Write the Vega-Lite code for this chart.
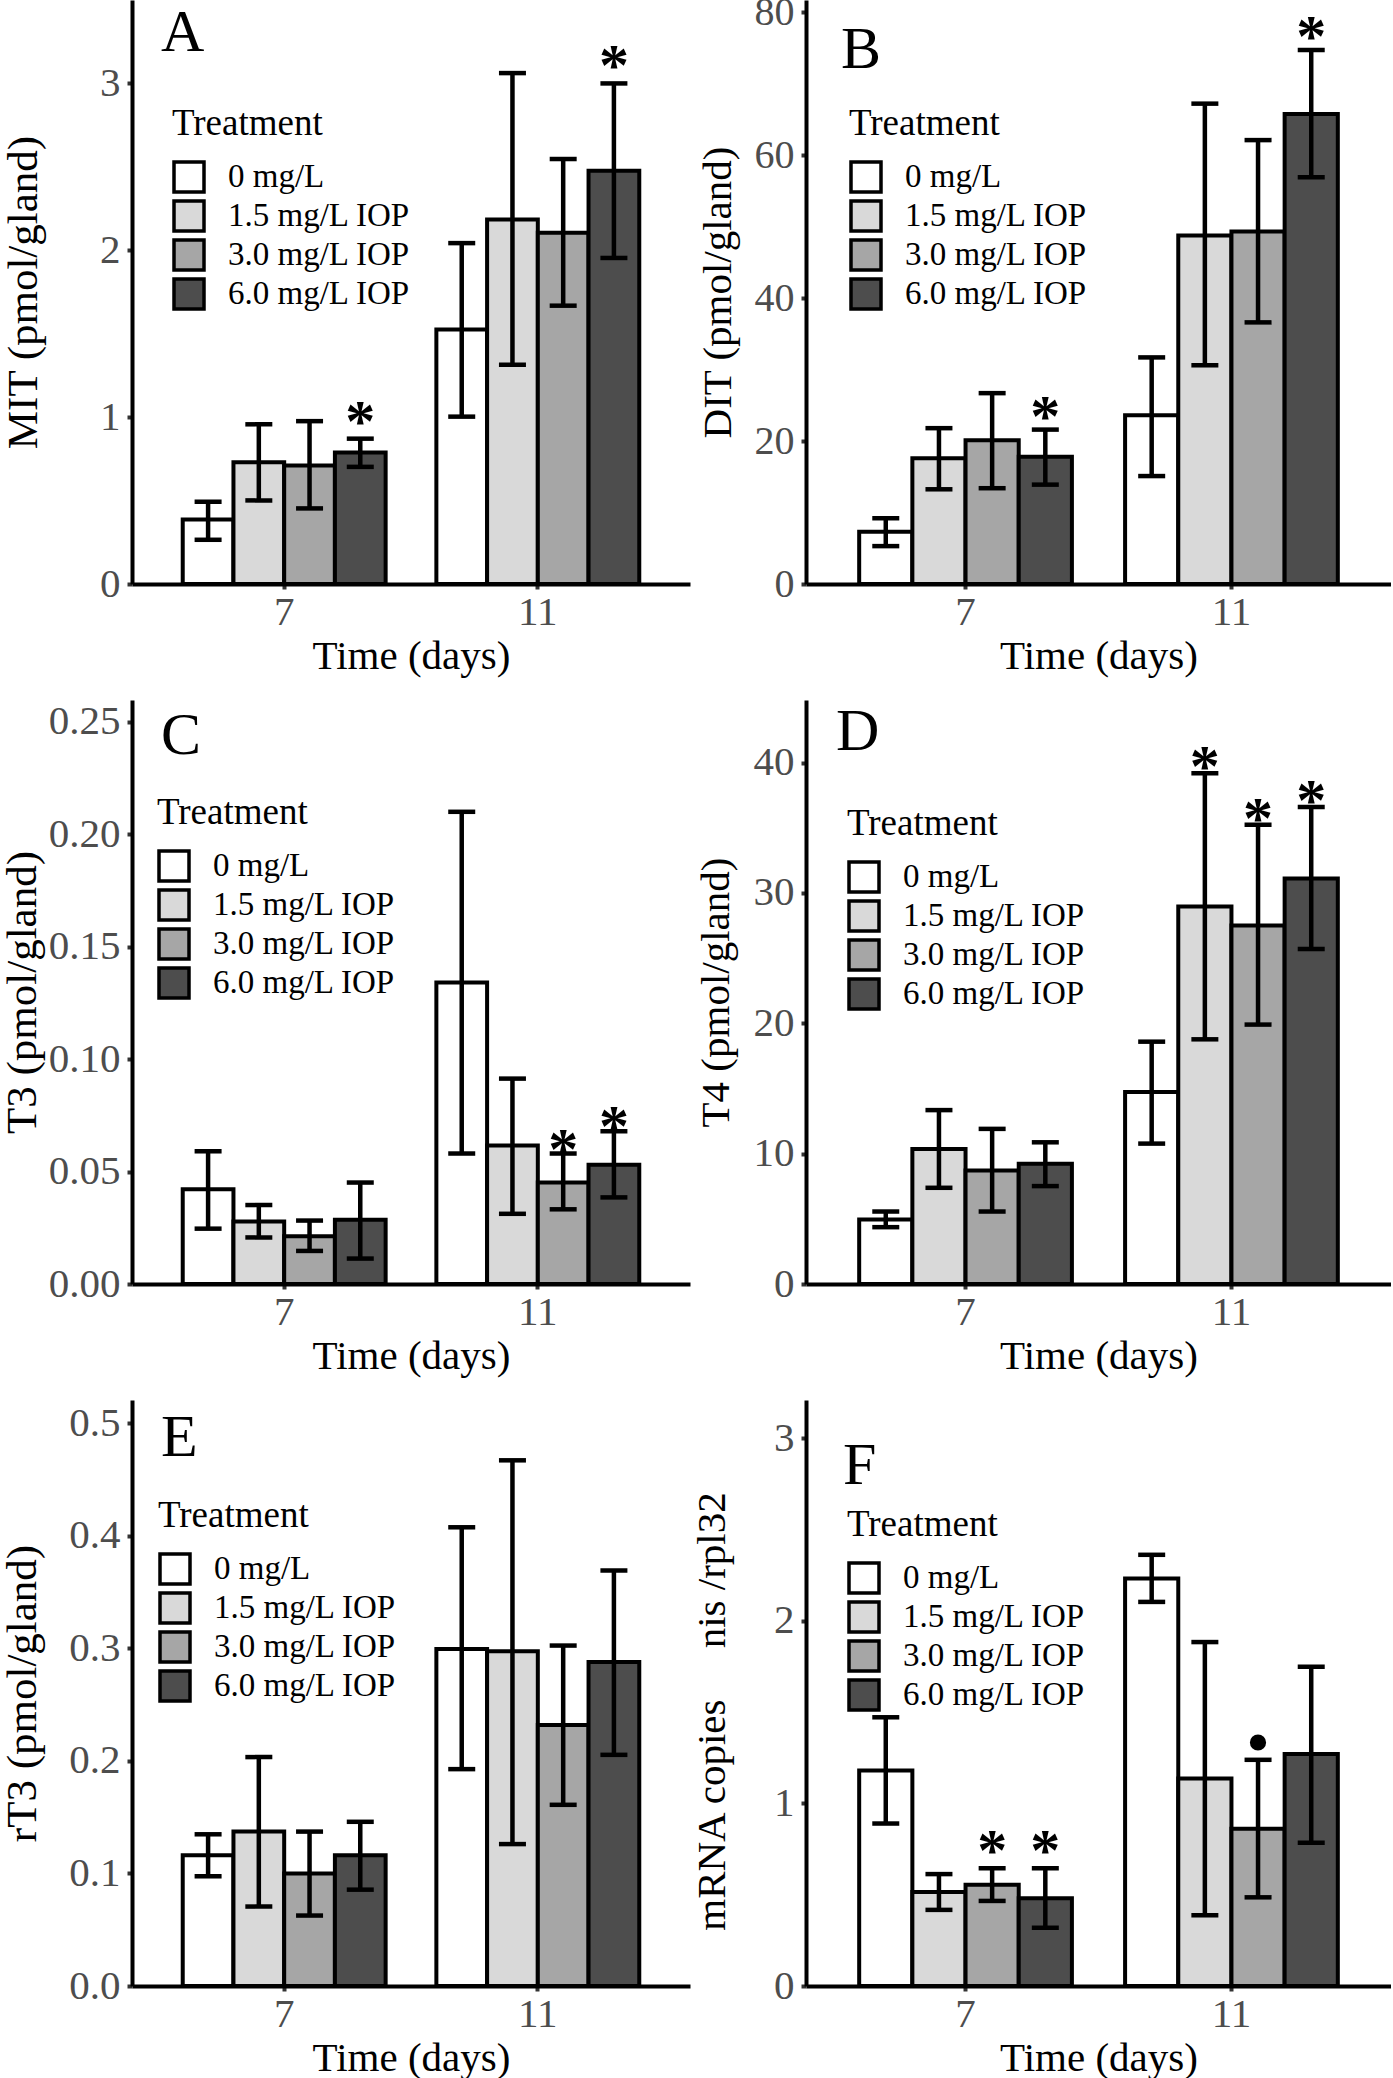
{
  "$schema": "https://vega.github.io/schema/vega-lite/v6.json",
  "padding": {"left": 0, "top": -8, "right": 0, "bottom": 0},
  "datasets": {
    "d": [
      {"p":"A","day":"7","trt":"0 mg/L","m":0.386,"lo":0.265,"hi":0.493,"sig":""},
      {"p":"A","day":"7","trt":"1.5 mg/L IOP","m":0.729,"lo":0.501,"hi":0.957,"sig":""},
      {"p":"A","day":"7","trt":"3.0 mg/L IOP","m":0.710,"lo":0.453,"hi":0.976,"sig":""},
      {"p":"A","day":"7","trt":"6.0 mg/L IOP","m":0.788,"lo":0.702,"hi":0.871,"sig":"*"},
      {"p":"A","day":"11","trt":"0 mg/L","m":1.525,"lo":1.003,"hi":2.043,"sig":""},
      {"p":"A","day":"11","trt":"1.5 mg/L IOP","m":2.185,"lo":1.314,"hi":3.062,"sig":""},
      {"p":"A","day":"11","trt":"3.0 mg/L IOP","m":2.105,"lo":1.668,"hi":2.547,"sig":""},
      {"p":"A","day":"11","trt":"6.0 mg/L IOP","m":2.477,"lo":1.954,"hi":3.0,"sig":"*"},
      {"p":"B","day":"7","trt":"0 mg/L","m":7.3,"lo":5.3,"hi":9.2,"sig":""},
      {"p":"B","day":"7","trt":"1.5 mg/L IOP","m":17.6,"lo":13.25,"hi":21.8,"sig":""},
      {"p":"B","day":"7","trt":"3.0 mg/L IOP","m":20.1,"lo":13.4,"hi":26.7,"sig":""},
      {"p":"B","day":"7","trt":"6.0 mg/L IOP","m":17.8,"lo":13.9,"hi":21.6,"sig":"*"},
      {"p":"B","day":"11","trt":"0 mg/L","m":23.6,"lo":15.1,"hi":31.7,"sig":""},
      {"p":"B","day":"11","trt":"1.5 mg/L IOP","m":48.75,"lo":30.6,"hi":67.2,"sig":""},
      {"p":"B","day":"11","trt":"3.0 mg/L IOP","m":49.3,"lo":36.6,"hi":62.1,"sig":""},
      {"p":"B","day":"11","trt":"6.0 mg/L IOP","m":65.75,"lo":56.9,"hi":74.7,"sig":"*"},
      {"p":"C","day":"7","trt":"0 mg/L","m":0.0421,"lo":0.0246,"hi":0.059,"sig":""},
      {"p":"C","day":"7","trt":"1.5 mg/L IOP","m":0.0278,"lo":0.0207,"hi":0.0351,"sig":""},
      {"p":"C","day":"7","trt":"3.0 mg/L IOP","m":0.0212,"lo":0.0147,"hi":0.0282,"sig":""},
      {"p":"C","day":"7","trt":"6.0 mg/L IOP","m":0.0286,"lo":0.0113,"hi":0.0451,"sig":""},
      {"p":"C","day":"11","trt":"0 mg/L","m":0.134,"lo":0.058,"hi":0.2099,"sig":""},
      {"p":"C","day":"11","trt":"1.5 mg/L IOP","m":0.0616,"lo":0.0312,"hi":0.0913,"sig":""},
      {"p":"C","day":"11","trt":"3.0 mg/L IOP","m":0.0451,"lo":0.0332,"hi":0.058,"sig":"*"},
      {"p":"C","day":"11","trt":"6.0 mg/L IOP","m":0.053,"lo":0.0385,"hi":0.0679,"sig":"*"},
      {"p":"D","day":"7","trt":"0 mg/L","m":4.94,"lo":4.36,"hi":5.56,"sig":""},
      {"p":"D","day":"7","trt":"1.5 mg/L IOP","m":10.36,"lo":7.38,"hi":13.34,"sig":""},
      {"p":"D","day":"7","trt":"3.0 mg/L IOP","m":8.71,"lo":5.56,"hi":11.9,"sig":""},
      {"p":"D","day":"7","trt":"6.0 mg/L IOP","m":9.23,"lo":7.51,"hi":10.87,"sig":""},
      {"p":"D","day":"11","trt":"0 mg/L","m":14.72,"lo":10.77,"hi":18.59,"sig":""},
      {"p":"D","day":"11","trt":"1.5 mg/L IOP","m":28.95,"lo":18.77,"hi":39.18,"sig":"*"},
      {"p":"D","day":"11","trt":"3.0 mg/L IOP","m":27.51,"lo":19.9,"hi":35.23,"sig":"*"},
      {"p":"D","day":"11","trt":"6.0 mg/L IOP","m":31.11,"lo":25.7,"hi":36.6,"sig":"*"},
      {"p":"E","day":"7","trt":"0 mg/L","m":0.1162,"lo":0.0975,"hi":0.1348,"sig":""},
      {"p":"E","day":"7","trt":"1.5 mg/L IOP","m":0.1372,"lo":0.0706,"hi":0.2034,"sig":""},
      {"p":"E","day":"7","trt":"3.0 mg/L IOP","m":0.0999,"lo":0.0626,"hi":0.1372,"sig":""},
      {"p":"E","day":"7","trt":"6.0 mg/L IOP","m":0.1162,"lo":0.0856,"hi":0.1459,"sig":""},
      {"p":"E","day":"11","trt":"0 mg/L","m":0.2994,"lo":0.1927,"hi":0.4076,"sig":""},
      {"p":"E","day":"11","trt":"1.5 mg/L IOP","m":0.2974,"lo":0.1261,"hi":0.4671,"sig":""},
      {"p":"E","day":"11","trt":"3.0 mg/L IOP","m":0.232,"lo":0.161,"hi":0.3025,"sig":""},
      {"p":"E","day":"11","trt":"6.0 mg/L IOP","m":0.2879,"lo":0.2054,"hi":0.3692,"sig":""},
      {"p":"F","day":"7","trt":"0 mg/L","m":1.18,"lo":0.89,"hi":1.472,"sig":""},
      {"p":"F","day":"7","trt":"1.5 mg/L IOP","m":0.515,"lo":0.417,"hi":0.613,"sig":""},
      {"p":"F","day":"7","trt":"3.0 mg/L IOP","m":0.554,"lo":0.466,"hi":0.645,"sig":"*"},
      {"p":"F","day":"7","trt":"6.0 mg/L IOP","m":0.481,"lo":0.319,"hi":0.645,"sig":"*"},
      {"p":"F","day":"11","trt":"0 mg/L","m":2.232,"lo":2.104,"hi":2.362,"sig":""},
      {"p":"F","day":"11","trt":"1.5 mg/L IOP","m":1.136,"lo":0.3875,"hi":1.884,"sig":""},
      {"p":"F","day":"11","trt":"3.0 mg/L IOP","m":0.861,"lo":0.4857,"hi":1.239,"sig":"•"},
      {"p":"F","day":"11","trt":"6.0 mg/L IOP","m":1.271,"lo":0.785,"hi":1.749,"sig":""}
    ]
  },
  "data": {"name": "d"},
  "columns": 2,
  "bounds": "flush",
  "spacing": {"row": 116, "column": 116},
  "concat": [
    {
      "width": 558, "height": 584,
      "title": {"text": "A", "dx": 29, "dy": 68},
      "transform": [{"filter": "datum.p === 'A'"}],
      "encoding": {
        "x": {"field": "day", "type": "nominal", "sort": ["7", "11"], "scale": {"paddingInner": 0.2, "paddingOuter": 0.2}, "axis": {"title": "Time (days)"}},
        "xOffset": {"field": "trt", "type": "nominal", "sort": ["0 mg/L", "1.5 mg/L IOP", "3.0 mg/L IOP", "6.0 mg/L IOP"], "scale": {"paddingInner": 0, "paddingOuter": 0}}
      },
      "layer": [
        {"mark": {"type": "bar", "stroke": "black", "strokeWidth": 4},
         "encoding": {
           "y": {"field": "m", "type": "quantitative", "title": "MIT (pmol/gland)", "scale": {"domain": [0, 3.5], "nice": false}, "axis": {"values": [0, 1, 2, 3], "format": "d", "titleX": -87, "titleFontSize": 43}},
           "fill": {"field": "trt", "type": "nominal", "title": "Treatment", "scale": {"domain": ["0 mg/L", "1.5 mg/L IOP", "3.0 mg/L IOP", "6.0 mg/L IOP"], "range": ["#FFFFFF", "#D9D9D9", "#A6A6A6", "#4D4D4D"]}, "legend": {"orient": "none", "legendX": 40, "legendY": 106}}}},
        {"mark": {"type": "rule", "strokeWidth": 4.5, "color": "black"},
         "encoding": {"y": {"field": "lo", "type": "quantitative", "title": "MIT (pmol/gland)"}, "y2": {"field": "hi"}}},
        {"mark": {"type": "tick", "size": 27, "thickness": 4.5, "color": "black", "orient": "horizontal", "opacity": 1},
         "encoding": {"y": {"field": "lo", "type": "quantitative", "title": "MIT (pmol/gland)"}}},
        {"mark": {"type": "tick", "size": 27, "thickness": 4.5, "color": "black", "orient": "horizontal", "opacity": 1},
         "encoding": {"y": {"field": "hi", "type": "quantitative", "title": "MIT (pmol/gland)"}}},
        {"transform": [{"filter": "datum.sig !== ''"}],
         "mark": {"type": "text", "fontSize": 60, "fontWeight": "bold", "baseline": "alphabetic", "dy": 2, "color": "black"},
         "encoding": {"y": {"field": "hi", "type": "quantitative", "title": "MIT (pmol/gland)"}, "text": {"field": "sig"}}}
      ]
    },
    {
      "width": 585, "height": 584,
      "title": {"text": "B", "dx": 35, "dy": 93},
      "transform": [{"filter": "datum.p === 'B'"}],
      "encoding": {
        "x": {"field": "day", "type": "nominal", "sort": ["7", "11"], "scale": {"paddingInner": 0.2, "paddingOuter": 0.2}, "axis": {"title": "Time (days)"}},
        "xOffset": {"field": "trt", "type": "nominal", "sort": ["0 mg/L", "1.5 mg/L IOP", "3.0 mg/L IOP", "6.0 mg/L IOP"], "scale": {"paddingInner": 0, "paddingOuter": 0}}
      },
      "layer": [
        {"mark": {"type": "bar", "stroke": "black", "strokeWidth": 4},
         "encoding": {
           "y": {"field": "m", "type": "quantitative", "title": "DIT (pmol/gland)", "scale": {"domain": [0, 81.7], "nice": false}, "axis": {"values": [0, 20, 40, 60, 80], "titleX": -67, "labelFontSize": 40}},
           "fill": {"field": "trt", "type": "nominal", "title": "Treatment", "scale": {"domain": ["0 mg/L", "1.5 mg/L IOP", "3.0 mg/L IOP", "6.0 mg/L IOP"], "range": ["#FFFFFF", "#D9D9D9", "#A6A6A6", "#4D4D4D"]}, "legend": {"orient": "none", "legendX": 43, "legendY": 106}}}},
        {"mark": {"type": "rule", "strokeWidth": 4.5, "color": "black"},
         "encoding": {"y": {"field": "lo", "type": "quantitative", "title": "DIT (pmol/gland)"}, "y2": {"field": "hi"}}},
        {"mark": {"type": "tick", "size": 27, "thickness": 4.5, "color": "black", "orient": "horizontal", "opacity": 1},
         "encoding": {"y": {"field": "lo", "type": "quantitative", "title": "DIT (pmol/gland)"}}},
        {"mark": {"type": "tick", "size": 27, "thickness": 4.5, "color": "black", "orient": "horizontal", "opacity": 1},
         "encoding": {"y": {"field": "hi", "type": "quantitative", "title": "DIT (pmol/gland)"}}},
        {"transform": [{"filter": "datum.sig !== ''"}],
         "mark": {"type": "text", "fontSize": 60, "fontWeight": "bold", "baseline": "alphabetic", "dy": 6, "color": "black"},
         "encoding": {"y": {"field": "hi", "type": "quantitative", "title": "DIT (pmol/gland)"}, "text": {"field": "sig"}}}
      ]
    },
    {
      "width": 558, "height": 584,
      "title": {"text": "C", "dx": 29, "dy": 71},
      "transform": [{"filter": "datum.p === 'C'"}],
      "encoding": {
        "x": {"field": "day", "type": "nominal", "sort": ["7", "11"], "scale": {"paddingInner": 0.2, "paddingOuter": 0.2}, "axis": {"title": "Time (days)"}},
        "xOffset": {"field": "trt", "type": "nominal", "sort": ["0 mg/L", "1.5 mg/L IOP", "3.0 mg/L IOP", "6.0 mg/L IOP"], "scale": {"paddingInner": 0, "paddingOuter": 0}}
      },
      "layer": [
        {"mark": {"type": "bar", "stroke": "black", "strokeWidth": 4},
         "encoding": {
           "y": {"field": "m", "type": "quantitative", "title": "T3 (pmol/gland)", "scale": {"domain": [0, 0.2596], "nice": false}, "axis": {"values": [0, 0.05, 0.1, 0.15, 0.2, 0.25], "format": ".2f", "titleX": -88, "titleFontSize": 43}},
           "fill": {"field": "trt", "type": "nominal", "title": "Treatment", "scale": {"domain": ["0 mg/L", "1.5 mg/L IOP", "3.0 mg/L IOP", "6.0 mg/L IOP"], "range": ["#FFFFFF", "#D9D9D9", "#A6A6A6", "#4D4D4D"]}, "legend": {"orient": "none", "legendX": 25, "legendY": 95}}}},
        {"mark": {"type": "rule", "strokeWidth": 4.5, "color": "black"},
         "encoding": {"y": {"field": "lo", "type": "quantitative", "title": "T3 (pmol/gland)"}, "y2": {"field": "hi"}}},
        {"mark": {"type": "tick", "size": 27, "thickness": 4.5, "color": "black", "orient": "horizontal", "opacity": 1},
         "encoding": {"y": {"field": "lo", "type": "quantitative", "title": "T3 (pmol/gland)"}}},
        {"mark": {"type": "tick", "size": 27, "thickness": 4.5, "color": "black", "orient": "horizontal", "opacity": 1},
         "encoding": {"y": {"field": "hi", "type": "quantitative", "title": "T3 (pmol/gland)"}}},
        {"transform": [{"filter": "datum.sig !== ''"}],
         "mark": {"type": "text", "fontSize": 60, "fontWeight": "bold", "baseline": "alphabetic", "dy": 15, "color": "black"},
         "encoding": {"y": {"field": "hi", "type": "quantitative", "title": "T3 (pmol/gland)"}, "text": {"field": "sig"}}}
      ]
    },
    {
      "width": 585, "height": 584,
      "title": {"text": "D", "dx": 30, "dy": 67},
      "transform": [{"filter": "datum.p === 'D'"}],
      "encoding": {
        "x": {"field": "day", "type": "nominal", "sort": ["7", "11"], "scale": {"paddingInner": 0.2, "paddingOuter": 0.2}, "axis": {"title": "Time (days)"}},
        "xOffset": {"field": "trt", "type": "nominal", "sort": ["0 mg/L", "1.5 mg/L IOP", "3.0 mg/L IOP", "6.0 mg/L IOP"], "scale": {"paddingInner": 0, "paddingOuter": 0}}
      },
      "layer": [
        {"mark": {"type": "bar", "stroke": "black", "strokeWidth": 4},
         "encoding": {
           "y": {"field": "m", "type": "quantitative", "title": "T4 (pmol/gland)", "scale": {"domain": [0, 44.8], "nice": false}, "axis": {"values": [0, 10, 20, 30, 40], "titleX": -69}},
           "fill": {"field": "trt", "type": "nominal", "title": "Treatment", "scale": {"domain": ["0 mg/L", "1.5 mg/L IOP", "3.0 mg/L IOP", "6.0 mg/L IOP"], "range": ["#FFFFFF", "#D9D9D9", "#A6A6A6", "#4D4D4D"]}, "legend": {"orient": "none", "legendX": 41, "legendY": 106}}}},
        {"mark": {"type": "rule", "strokeWidth": 4.5, "color": "black"},
         "encoding": {"y": {"field": "lo", "type": "quantitative", "title": "T4 (pmol/gland)"}, "y2": {"field": "hi"}}},
        {"mark": {"type": "tick", "size": 27, "thickness": 4.5, "color": "black", "orient": "horizontal", "opacity": 1},
         "encoding": {"y": {"field": "lo", "type": "quantitative", "title": "T4 (pmol/gland)"}}},
        {"mark": {"type": "tick", "size": 27, "thickness": 4.5, "color": "black", "orient": "horizontal", "opacity": 1},
         "encoding": {"y": {"field": "hi", "type": "quantitative", "title": "T4 (pmol/gland)"}}},
        {"transform": [{"filter": "datum.sig !== ''"}],
         "mark": {"type": "text", "fontSize": 60, "fontWeight": "bold", "baseline": "alphabetic", "dy": 13, "color": "black"},
         "encoding": {"y": {"field": "hi", "type": "quantitative", "title": "T4 (pmol/gland)"}, "text": {"field": "sig"}}}
      ]
    },
    {
      "width": 558, "height": 586,
      "title": {"text": "E", "dx": 29, "dy": 73},
      "transform": [{"filter": "datum.p === 'E'"}],
      "encoding": {
        "x": {"field": "day", "type": "nominal", "sort": ["7", "11"], "scale": {"paddingInner": 0.2, "paddingOuter": 0.2}, "axis": {"title": "Time (days)"}},
        "xOffset": {"field": "trt", "type": "nominal", "sort": ["0 mg/L", "1.5 mg/L IOP", "3.0 mg/L IOP", "6.0 mg/L IOP"], "scale": {"paddingInner": 0, "paddingOuter": 0}}
      },
      "layer": [
        {"mark": {"type": "bar", "stroke": "black", "strokeWidth": 4},
         "encoding": {
           "y": {"field": "m", "type": "quantitative", "title": "rT3 (pmol/gland)", "scale": {"domain": [0, 0.5207], "nice": false}, "axis": {"values": [0, 0.1, 0.2, 0.3, 0.4, 0.5], "format": ".1f", "titleX": -88, "titleFontSize": 43}},
           "fill": {"field": "trt", "type": "nominal", "title": "Treatment", "scale": {"domain": ["0 mg/L", "1.5 mg/L IOP", "3.0 mg/L IOP", "6.0 mg/L IOP"], "range": ["#FFFFFF", "#D9D9D9", "#A6A6A6", "#4D4D4D"]}, "legend": {"orient": "none", "legendX": 26, "legendY": 98}}}},
        {"mark": {"type": "rule", "strokeWidth": 4.5, "color": "black"},
         "encoding": {"y": {"field": "lo", "type": "quantitative", "title": "rT3 (pmol/gland)"}, "y2": {"field": "hi"}}},
        {"mark": {"type": "tick", "size": 27, "thickness": 4.5, "color": "black", "orient": "horizontal", "opacity": 1},
         "encoding": {"y": {"field": "lo", "type": "quantitative", "title": "rT3 (pmol/gland)"}}},
        {"mark": {"type": "tick", "size": 27, "thickness": 4.5, "color": "black", "orient": "horizontal", "opacity": 1},
         "encoding": {"y": {"field": "hi", "type": "quantitative", "title": "rT3 (pmol/gland)"}}}
      ]
    },
    {
      "width": 585, "height": 586,
      "title": {"text": "F", "dx": 37, "dy": 101},
      "transform": [{"filter": "datum.p === 'F'"}],
      "encoding": {
        "x": {"field": "day", "type": "nominal", "sort": ["7", "11"], "scale": {"paddingInner": 0.2, "paddingOuter": 0.2}, "axis": {"title": "Time (days)"}},
        "xOffset": {"field": "trt", "type": "nominal", "sort": ["0 mg/L", "1.5 mg/L IOP", "3.0 mg/L IOP", "6.0 mg/L IOP"], "scale": {"paddingInner": 0, "paddingOuter": 0}}
      },
      "layer": [
        {"mark": {"type": "bar", "stroke": "black", "strokeWidth": 4},
         "encoding": {
           "y": {"field": "m", "type": "quantitative", "title": "mRNA copies\u00a0\u00a0\u00a0\u00a0\u00a0nis /rpl32", "scale": {"domain": [0, 3.21], "nice": false}, "axis": {"values": [0, 1, 2, 3], "format": "d", "titleX": -73, "titleY": 311}},
           "fill": {"field": "trt", "type": "nominal", "title": "Treatment", "scale": {"domain": ["0 mg/L", "1.5 mg/L IOP", "3.0 mg/L IOP", "6.0 mg/L IOP"], "range": ["#FFFFFF", "#D9D9D9", "#A6A6A6", "#4D4D4D"]}, "legend": {"orient": "none", "legendX": 41, "legendY": 107}}}},
        {"mark": {"type": "rule", "strokeWidth": 4.5, "color": "black"},
         "encoding": {"y": {"field": "lo", "type": "quantitative", "title": "mRNA copies\u00a0\u00a0\u00a0\u00a0\u00a0nis /rpl32"}, "y2": {"field": "hi"}}},
        {"mark": {"type": "tick", "size": 27, "thickness": 4.5, "color": "black", "orient": "horizontal", "opacity": 1},
         "encoding": {"y": {"field": "lo", "type": "quantitative", "title": "mRNA copies\u00a0\u00a0\u00a0\u00a0\u00a0nis /rpl32"}}},
        {"mark": {"type": "tick", "size": 27, "thickness": 4.5, "color": "black", "orient": "horizontal", "opacity": 1},
         "encoding": {"y": {"field": "hi", "type": "quantitative", "title": "mRNA copies\u00a0\u00a0\u00a0\u00a0\u00a0nis /rpl32"}}},
        {"transform": [{"filter": "datum.sig !== ''"}],
         "mark": {"type": "text", "fontSize": 60, "fontWeight": "bold", "baseline": "alphabetic", "dy": 2, "color": "black"},
         "encoding": {"y": {"field": "hi", "type": "quantitative", "title": "mRNA copies\u00a0\u00a0\u00a0\u00a0\u00a0nis /rpl32"}, "text": {"field": "sig"}}}
      ]
    }
  ],
  "resolve": {
    "scale": {"x": "independent", "y": "independent", "xOffset": "independent", "fill": "independent"},
    "axis": {"x": "independent", "y": "independent"},
    "legend": {"fill": "independent"}
  },
  "config": {
    "font": "Liberation Serif",
    "view": {"stroke": null},
    "axis": {
      "grid": false,
      "domainColor": "black", "domainWidth": 4,
      "tickColor": "#333333", "tickWidth": 4, "tickSize": 5,
      "labelColor": "#4D4D4D", "labelFontSize": 41, "labelFont": "Liberation Serif",
      "titleFontSize": 41, "titleFontWeight": "normal", "titleColor": "black", "titleFont": "Liberation Serif"
    },
    "axisX": {"labelAngle": 0, "labelPadding": 3, "titlePadding": 4},
    "axisY": {"labelPadding": 7},
    "legend": {
      "titleFontSize": 37, "titleFontWeight": "normal", "titleColor": "black", "titleFont": "Liberation Serif",
      "labelFontSize": 33, "labelColor": "black", "labelFont": "Liberation Serif", "labelLimit": 500,
      "symbolType": "square", "symbolSize": 900, "symbolStrokeColor": "black", "symbolStrokeWidth": 3.5,
      "rowPadding": -9, "titlePadding": 17, "labelOffset": 22
    },
    "title": {
      "anchor": "start", "frame": "group", "fontSize": 60, "fontWeight": "normal", "color": "black",
      "font": "Liberation Serif", "offset": 0, "baseline": "alphabetic"
    }
  }
}
